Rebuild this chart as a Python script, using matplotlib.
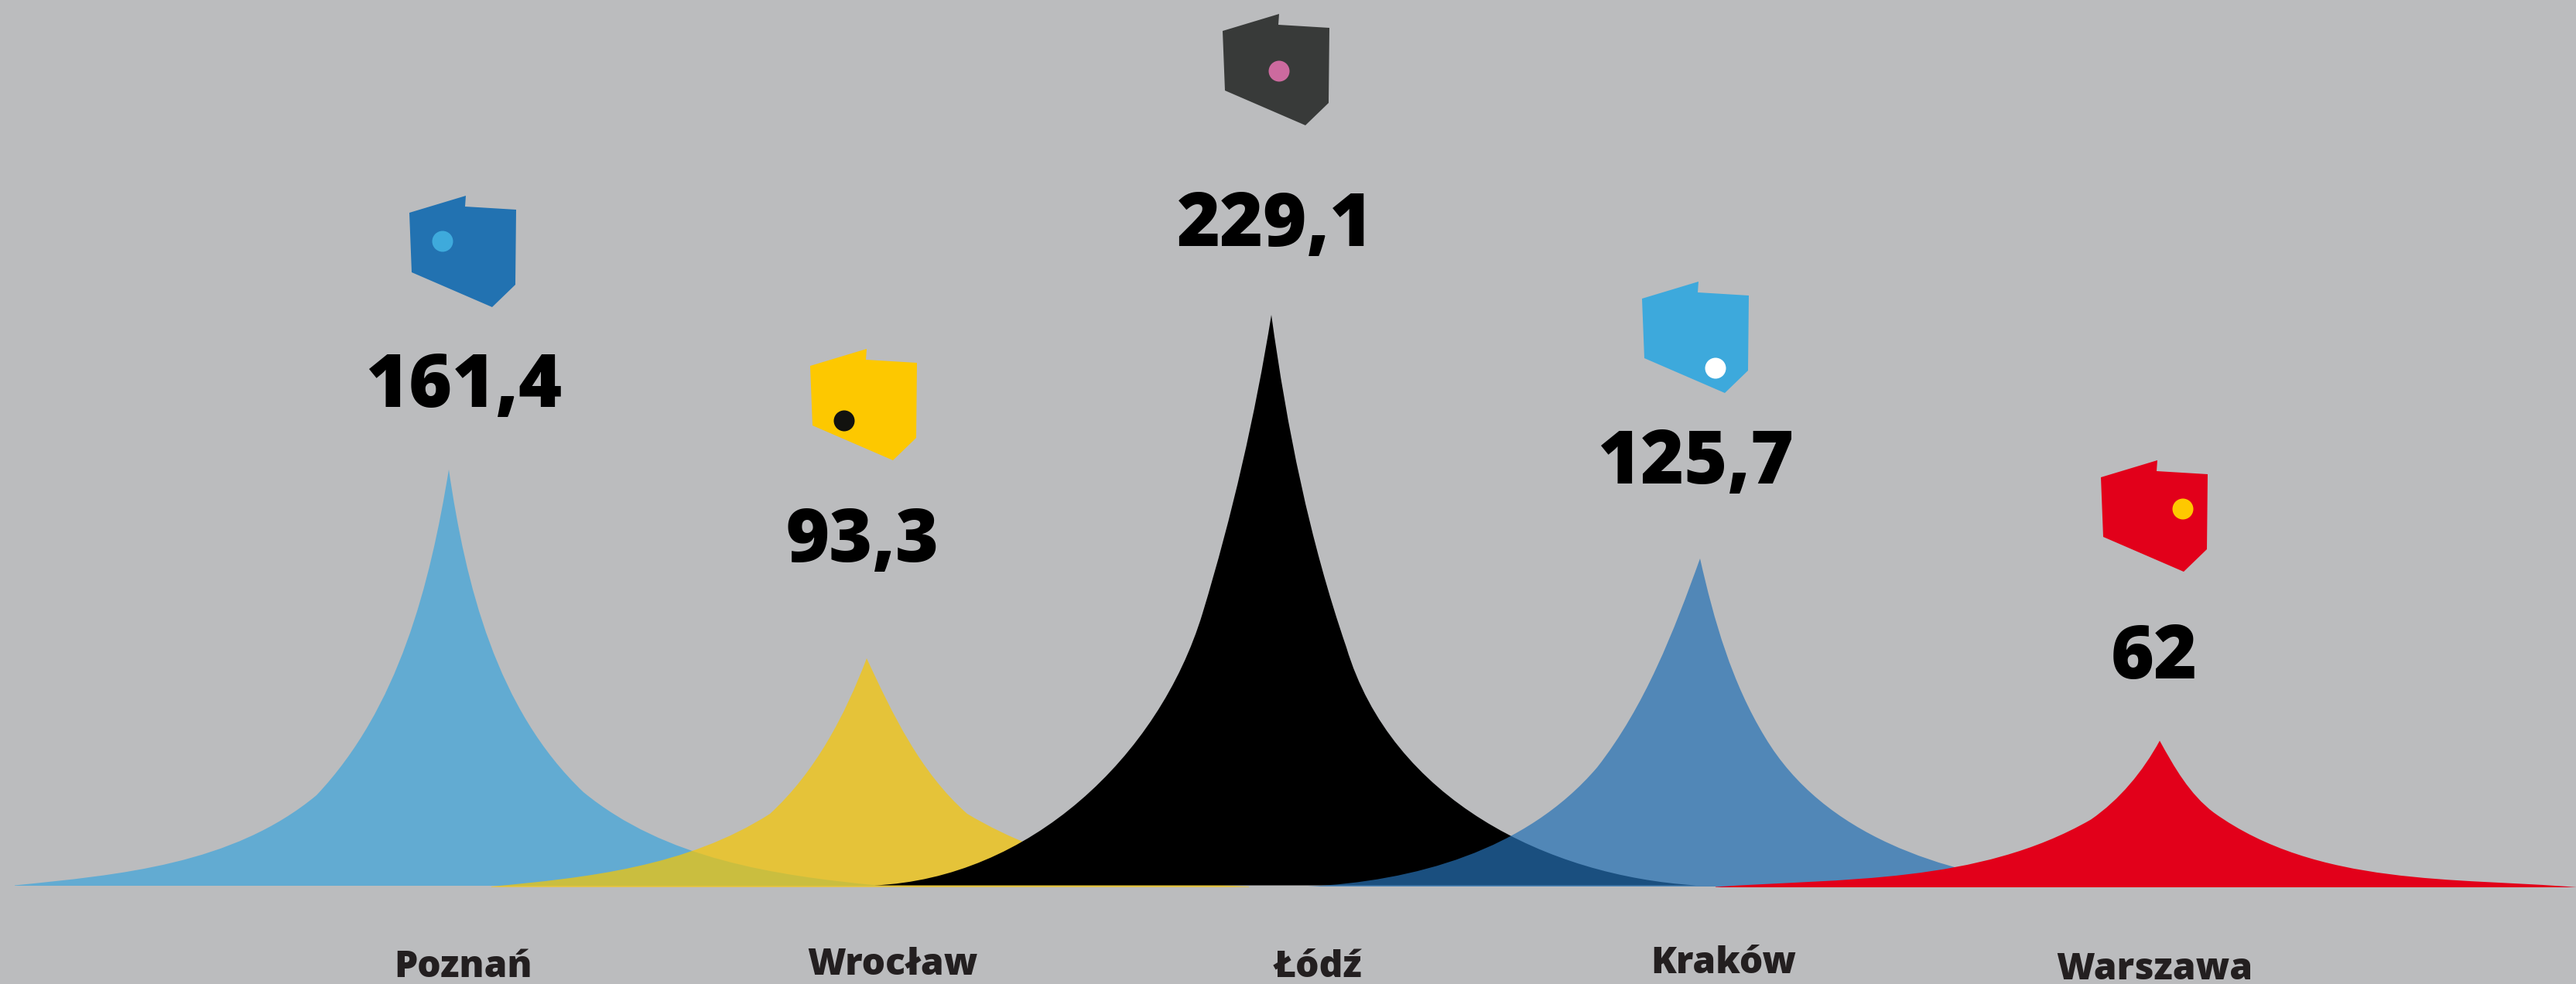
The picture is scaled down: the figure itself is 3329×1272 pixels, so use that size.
import matplotlib
matplotlib.use('Agg')
import matplotlib.pyplot as plt
import numpy as np
from matplotlib.patches import Polygon, Circle, PathPatch
from matplotlib.path import Path

plt.rcParams['font.family'] = ['Open Sans', 'DejaVu Sans']

cities = ['Poznań', 'Wrocław', 'Łódź', 'Kraków', 'Warszawa']
values = ['161,4', '93,3', '229,1', '125,7', '62']

# peak outlines: x position and height over the base line
poznan_x = [19, 69, 130, 199, 268, 329, 375, 409, 440, 467, 501, 528, 551, 570, 580, 591, 608, 631, 658, 689, 723, 754, 803.5, 849, 895, 957, 1025.5, 1087, 1133]
poznan_h = [2.5, 7, 15, 27, 44.5, 68, 93.5, 119, 153.5, 193.5, 259, 324, 401, 477, 540, 472, 393.4, 324, 259, 201, 153.5, 123, 88, 64.5, 47, 30, 15.4, 7, 2.5]
wroclaw_x = [635, 689, 759, 830, 897, 957, 995, 1021, 1046, 1072, 1097, 1120, 1142, 1164, 1193, 1225, 1250, 1286, 1321, 1365, 1429, 1493, 1557, 1614]
wroclaw_h = [1, 6, 15.3, 29, 47, 74, 95, 120, 154, 194, 240, 296, 250, 207, 160, 120, 95, 75, 60, 42, 25, 12, 5, 1]
lodz_x = [1130, 1182, 1231, 1281, 1323, 1351, 1393, 1435, 1477, 1509, 1533, 1554, 1572, 1593, 1610, 1628, 1643, 1656, 1673, 1694, 1715, 1740, 1765, 1800, 1842, 1891, 1951, 2033, 2109, 2192]
lodz_h = [2.5, 9.5, 20, 37.5, 60, 79, 109, 148, 202, 249, 300, 354, 418, 492, 570, 654, 740, 654, 561, 467, 389, 310, 251, 197, 143, 99, 65.5, 35.3, 15.3, 2.5]
krakow_x = [1690, 1714, 1765, 1829, 1892, 1951, 1988, 2026, 2064, 2090, 2122, 2151, 2176, 2197, 2211, 2233, 2256, 2281, 2307, 2339, 2383, 2417, 2447, 2483, 2523, 2580, 2650]
krakow_h = [1, 2.7, 9, 20, 39, 65, 87, 119, 155, 190, 247, 307, 367, 425, 367, 297, 240, 194, 157, 124, 89, 67, 55, 39, 27, 14, 2]
warszawa_x = [2217, 2283, 2350, 2450, 2523, 2600, 2633, 2670, 2702, 2730, 2758, 2791, 2809, 2837, 2861, 2884, 2926, 2986, 3065, 3159, 3252, 3330]
warszawa_h = [0.5, 3, 7, 16, 27, 43.4, 53.4, 69.3, 87.5, 110, 140, 189.5, 158, 119, 96.5, 78.4, 58, 37.5, 22, 10, 3.4, 0]

outlines_x = [poznan_x, wroclaw_x, lodz_x, krakow_x, warszawa_x]
outlines_h = [poznan_h, wroclaw_h, lodz_h, krakow_h, warszawa_h]
# where each flank bends, as x of the read point
bends_left = [409, 995, 1554, 2064, 2702]
bends_right = [754, 1250, 1740, 2281, 2861]
floors = [2, 0.3, 2.5, 1, 0]
fills = ['#3ca5db', '#f7c701', '#000000', '#2571b5', '#e2001a']
alphas = [0.7, 0.7, 1, 0.705, 1]

# small map icons: top left corner, dot centre, colours
icon_x = [529, 1047, 1580, 2122, 2715]
icon_h = [894, 696, 1129, 783, 552]
dot_x = [572, 1091, 1653, 2217, 2821]
dot_h = [835, 603, 1055, 671, 489]
icon_colors = ['#2272b1', '#fdc800', '#383a39', '#3da9dc', '#e2001a']
dot_colors = ['#3eaadc', '#12120f', '#cc6a9e', '#ffffff', '#fec800']
outline_dx = [0, 73, 72, 138, 137, 107, 3]
outline_dh = [-22, 0, -14, -18, -115, -144, -99]

value_x = [599.5, 1115, 1648, 2191.5, 2784]
value_h = [621, 421, 829, 522, 270]
label_x = [599, 1153, 1703, 2227, 2784]
label_h = [-116, -113, -116, -111, -119]


def fit_bezier(pts):
    # one cubic through the read points of a stretch, ends held fixed
    d = np.r_[0, np.cumsum(np.linalg.norm(np.diff(pts, axis=0), axis=1))]
    t = d / d[-1]
    b0, b1, b2, b3 = (1 - t) ** 3, 3 * t * (1 - t) ** 2, 3 * t ** 2 * (1 - t), t ** 3
    rhs = pts - np.outer(b0, pts[0]) - np.outer(b3, pts[-1])
    ctrl = np.linalg.lstsq(np.column_stack([b1, b2]), rhs, rcond=None)[0]
    return [ctrl[0], ctrl[1], pts[-1]]


def peak_path(x, h, floor, bend_l, bend_r):
    pts = np.column_stack([x, h]).astype(float)
    top = int(np.argmax(h))
    bl, br = x.index(bend_l), x.index(bend_r)
    verts = [(x[0], floor), (x[0], h[0])]
    for a, b in [(0, bl), (bl, top), (top, br), (br, len(x) - 1)]:
        verts += fit_bezier(pts[a:b + 1])
    verts += [(x[-1], floor), (x[0], floor)]
    codes = [Path.MOVETO, Path.LINETO] + [Path.CURVE4] * 12 + [Path.LINETO, Path.CLOSEPOLY]
    return Path(verts, codes)


fig = plt.figure(figsize=(33.3, 12.72), dpi=100, facecolor='#bbbcbe')
ax = fig.add_axes([0, 0, 1, 1])
ax.set_xlim(0, 3330)
ax.set_ylim(-125, 1147)
ax.axis('off')

for i in range(len(cities)):
    p = peak_path(outlines_x[i], outlines_h[i], floors[i], bends_left[i], bends_right[i])
    ax.add_patch(PathPatch(p, facecolor=fills[i], edgecolor='none', alpha=alphas[i]))

for i in range(len(cities)):
    pts = [(icon_x[i] + dx, icon_h[i] + dh) for dx, dh in zip(outline_dx, outline_dh)]
    ax.add_patch(Polygon(pts, closed=True, facecolor=icon_colors[i], edgecolor='none'))
    ax.add_patch(Circle((dot_x[i], dot_h[i]), 13.5, facecolor=dot_colors[i], edgecolor='none'))
    ax.text(value_x[i], value_h[i], values[i], ha='center', va='baseline', fontsize=69, fontweight=800, color='#000000')
    ax.text(label_x[i], label_h[i], cities[i], ha='center', va='baseline', fontsize=34.5, fontweight=800, color='#231f20')

fig.savefig('out.png', dpi=100, facecolor=fig.get_facecolor())
